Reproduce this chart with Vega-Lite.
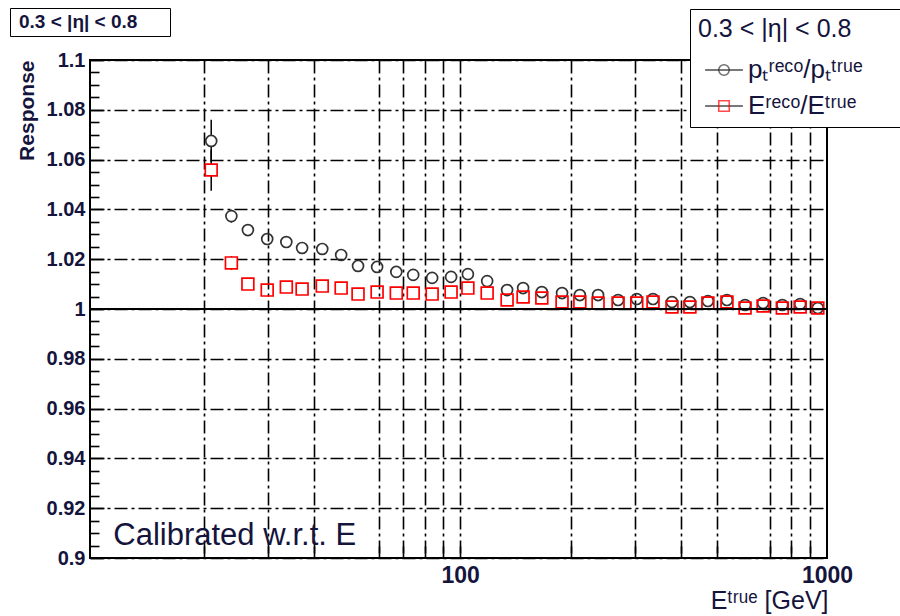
{
  "$schema": "https://vega.github.io/schema/vega-lite/v6.json",
  "width": 737,
  "height": 498,
  "autosize": {"type": "none"},
  "padding": {"left": 90, "top": 60, "right": 73, "bottom": 58},
  "background": "white",
  "config": {
    "view": {"stroke": "black", "strokeWidth": 2},
    "font": "Liberation Sans",
    "axis": {"labelFont": "Liberation Sans", "titleFont": "Liberation Sans"}
  },
  "data": {
    "values": [
      {"s": "pT", "E": 20.97, "r": 1.0675, "lo": 1.059, "hi": 1.076},
      {"s": "pT", "E": 23.8, "r": 1.0373, "lo": 1.0347, "hi": 1.0399},
      {"s": "pT", "E": 26.4, "r": 1.0317},
      {"s": "pT", "E": 29.8, "r": 1.0281},
      {"s": "pT", "E": 33.6, "r": 1.0269},
      {"s": "pT", "E": 37.1, "r": 1.0245},
      {"s": "pT", "E": 42.1, "r": 1.0241},
      {"s": "pT", "E": 47.4, "r": 1.0217},
      {"s": "pT", "E": 52.7, "r": 1.0173},
      {"s": "pT", "E": 59.4, "r": 1.0169},
      {"s": "pT", "E": 67.0, "r": 1.0149},
      {"s": "pT", "E": 74.5, "r": 1.0137},
      {"s": "pT", "E": 83.9, "r": 1.0125},
      {"s": "pT", "E": 94.5, "r": 1.0129},
      {"s": "pT", "E": 105, "r": 1.014},
      {"s": "pT", "E": 118.5, "r": 1.0112},
      {"s": "pT", "E": 134.3, "r": 1.0076},
      {"s": "pT", "E": 148.5, "r": 1.0084},
      {"s": "pT", "E": 167, "r": 1.0068},
      {"s": "pT", "E": 189.6, "r": 1.0064},
      {"s": "pT", "E": 212, "r": 1.0056},
      {"s": "pT", "E": 237.7, "r": 1.0056},
      {"s": "pT", "E": 269.5, "r": 1.0036},
      {"s": "pT", "E": 303, "r": 1.004},
      {"s": "pT", "E": 335.6, "r": 1.004},
      {"s": "pT", "E": 378, "r": 1.0028},
      {"s": "pT", "E": 423, "r": 1.0028},
      {"s": "pT", "E": 473.5, "r": 1.0032},
      {"s": "pT", "E": 533.7, "r": 1.0036},
      {"s": "pT", "E": 598, "r": 1.0016},
      {"s": "pT", "E": 669.6, "r": 1.0024},
      {"s": "pT", "E": 755.5, "r": 1.0016},
      {"s": "pT", "E": 845, "r": 1.002},
      {"s": "pT", "E": 944, "r": 1.0004},
      {"s": "E", "E": 20.97, "r": 1.0558, "lo": 1.0475, "hi": 1.064},
      {"s": "E", "E": 23.8, "r": 1.0185, "lo": 1.0158, "hi": 1.0212},
      {"s": "E", "E": 26.4, "r": 1.01},
      {"s": "E", "E": 29.8, "r": 1.0076},
      {"s": "E", "E": 33.6, "r": 1.0088},
      {"s": "E", "E": 37.1, "r": 1.008},
      {"s": "E", "E": 42.1, "r": 1.0092},
      {"s": "E", "E": 47.4, "r": 1.0084},
      {"s": "E", "E": 52.7, "r": 1.006},
      {"s": "E", "E": 59.4, "r": 1.0068},
      {"s": "E", "E": 67.0, "r": 1.0064},
      {"s": "E", "E": 74.5, "r": 1.0064},
      {"s": "E", "E": 83.9, "r": 1.006},
      {"s": "E", "E": 94.5, "r": 1.0068},
      {"s": "E", "E": 105, "r": 1.0084},
      {"s": "E", "E": 118.5, "r": 1.0064},
      {"s": "E", "E": 134.3, "r": 1.0036},
      {"s": "E", "E": 148.5, "r": 1.0048},
      {"s": "E", "E": 167, "r": 1.0044},
      {"s": "E", "E": 189.6, "r": 1.0028},
      {"s": "E", "E": 212, "r": 1.0028},
      {"s": "E", "E": 237.7, "r": 1.0024},
      {"s": "E", "E": 269.5, "r": 1.0024},
      {"s": "E", "E": 303, "r": 1.0024},
      {"s": "E", "E": 335.6, "r": 1.0028},
      {"s": "E", "E": 378, "r": 1.0008},
      {"s": "E", "E": 423, "r": 1.0008},
      {"s": "E", "E": 473.5, "r": 1.0024},
      {"s": "E", "E": 533.7, "r": 1.0028},
      {"s": "E", "E": 598, "r": 1.0004},
      {"s": "E", "E": 669.6, "r": 1.0012},
      {"s": "E", "E": 755.5, "r": 1.0004},
      {"s": "E", "E": 845, "r": 1.0008},
      {"s": "E", "E": 944, "r": 1.0004}
    ]
  },
  "layer": [
    {
      "transform": [{"filter": "isValid(datum.lo)"}],
      "mark": {"type": "rule", "color": "black", "strokeWidth": 1.5},
      "encoding": {
        "x": {
          "field": "E", "type": "quantitative",
          "scale": {"type": "log", "domain": [9.8, 1000], "nice": false},
          "axis": {
            "orient": "bottom",
            "values": [20, 30, 40, 60, 70, 80, 90, 100, 200, 300, 400, 500, 700, 800, 900],
            "labels": false, "domain": false, "title": null,
            "grid": true, "gridColor": "black", "gridWidth": 1.6, "gridDash": [13, 4, 3, 4], "gridOpacity": 1,
            "ticks": true, "tickSize": -12, "tickColor": "black", "tickWidth": 1.6
          }
        },
        "y": {
          "field": "lo", "type": "quantitative",
          "scale": {"domain": [0.9, 1.1], "nice": false, "zero": false},
          "axis": {
            "orient": "left",
            "values": [0.9, 0.92, 0.94, 0.96, 0.98, 1.0, 1.02, 1.04, 1.06, 1.08, 1.1],
            "labels": false, "domain": false, "title": null,
            "grid": true, "gridColor": "black", "gridWidth": 1.6, "gridDash": [13, 4, 3, 4], "gridOpacity": 1,
            "ticks": true, "tickSize": -14, "tickColor": "black", "tickWidth": 1.6
          }
        },
        "y2": {"field": "hi"}
      }
    },
    {
      "transform": [{"filter": "datum.s == 'pT'"}],
      "mark": {"type": "point", "shape": "circle", "size": 120, "stroke": "#333333", "strokeWidth": 1.7, "opacity": 1},
      "encoding": {
        "x": {
          "field": "E", "type": "quantitative",
          "axis": {
            "orient": "bottom", "values": [100, 1000], "format": "d",
            "ticks": false, "domain": false, "grid": false,
            "labelFont": "Liberation Sans", "labelFontSize": 23, "labelFontWeight": "bold", "labelColor": "#14143c",
            "labelPadding": 6, "labelFlush": false, "labelOverlap": false,
            "title": "Eᵗʳᵘᵉ [GeV]", "titleFontSize": 25, "titleFontWeight": "normal", "titleColor": "#14143c",
            "titleX": 738, "titleY": 50, "titleAlign": "right", "titleBaseline": "alphabetic"
          }
        },
        "y": {
          "field": "r", "type": "quantitative",
          "axis": {
            "orient": "left",
            "values": [0.9, 0.92, 0.94, 0.96, 0.98, 1.0, 1.02, 1.04, 1.06, 1.08, 1.1],
            "labelExpr": "format(datum.value, '~g')",
            "ticks": false, "domain": false, "grid": false,
            "labelFont": "Liberation Sans", "labelFontSize": 20, "labelFontWeight": "bold", "labelColor": "#14143c",
            "labelPadding": 5, "labelFlush": false, "labelOverlap": false,
            "title": "Response", "titleFontSize": 21, "titleFontWeight": "bold", "titleColor": "#14143c",
            "titleX": -53, "titleY": 0, "titleAlign": "right", "titleBaseline": "bottom", "titleAngle": 270
          }
        },
        "fill": {"condition": {"test": "isValid(datum.lo)", "value": "white"}, "value": "transparent"}
      }
    },
    {
      "transform": [{"filter": "datum.s == 'E'"}],
      "mark": {"type": "point", "shape": "square", "size": 140, "stroke": "#ff0000", "strokeWidth": 1.7, "opacity": 1},
      "encoding": {
        "x": {"field": "E", "type": "quantitative", "axis": null},
        "y": {
          "field": "r", "type": "quantitative",
          "axis": {
            "orient": "left",
            "values": [0.905, 0.91, 0.915, 0.925, 0.93, 0.935, 0.945, 0.95, 0.955, 0.965, 0.97, 0.975, 0.985, 0.99, 0.995, 1.005, 1.01, 1.015, 1.025, 1.03, 1.035, 1.045, 1.05, 1.055, 1.065, 1.07, 1.075, 1.085, 1.09, 1.095],
            "labels": false, "domain": false, "grid": false, "title": null,
            "ticks": true, "tickSize": -9, "tickColor": "black", "tickWidth": 1.6
          }
        },
        "fill": {"condition": {"test": "isValid(datum.lo)", "value": "white"}, "value": "transparent"}
      }
    },
    {
      "data": {"values": [{}]},
      "mark": {"type": "rule", "color": "black", "strokeWidth": 2},
      "encoding": {"y": {"datum": 1, "type": "quantitative", "axis": null}}
    },
    {
      "data": {"values": [{}]},
      "mark": {"type": "text", "text": "Calibrated w.r.t. E", "font": "Liberation Sans", "fontSize": 31, "align": "left", "baseline": "alphabetic", "color": "#14143c"},
      "encoding": {
        "x": {"datum": 11.34, "type": "quantitative", "axis": null},
        "y": {"datum": 0.9052, "type": "quantitative", "axis": null}
      }
    },
    {
      "data": {"values": [{"a": "x"}]},
      "transform": [{"filter": "false"}],
      "mark": {"type": "point", "size": 110, "strokeWidth": 1.6, "filled": false},
      "encoding": {
        "shape": {
          "field": "a", "type": "nominal",
          "scale": {"domain": ["pₜʳᵉᶜᵒ/pₜᵗʳᵘᵉ", "Eʳᵉᶜᵒ/Eᵗʳᵘᵉ"], "range": ["M-3.6,0H3.6", "M-3.6,0H3.6"]},
          "legend": {
            "orient": "none", "legendX": 600, "legendY": -51,
            "title": "0.3 < |η| < 0.8\u2800\u00a0\u2800",
            "titleFont": "Liberation Sans", "titleFontSize": 25, "titleFontWeight": "normal", "titleColor": "#14143c", "titlePadding": 15, "titleLimit": 600,
            "labelFont": "Liberation Sans", "labelFontSize": 26, "labelColor": "#14143c", "labelLimit": 400,
            "labelOffset": 11, "symbolOffset": 13, "symbolSize": 110, "symbolStrokeWidth": 1.6, "symbolFillColor": "transparent",
            "rowPadding": 10, "padding": 8, "strokeColor": "black", "fillColor": "white", "cornerRadius": 0, "zindex": 1
          }
        },
        "stroke": {
          "field": "a", "type": "nominal",
          "scale": {"domain": ["pₜʳᵉᶜᵒ/pₜᵗʳᵘᵉ", "Eʳᵉᶜᵒ/Eᵗʳᵘᵉ"], "range": ["black", "black"]},
          "legend": {
            "orient": "none", "legendX": 600, "legendY": -51,
            "title": "0.3 < |η| < 0.8\u2800\u00a0\u2800",
            "titleFont": "Liberation Sans", "titleFontSize": 25, "titleFontWeight": "normal", "titleColor": "#14143c", "titlePadding": 15, "titleLimit": 600,
            "labelFont": "Liberation Sans", "labelFontSize": 26, "labelColor": "#14143c", "labelLimit": 400,
            "labelOffset": 11, "symbolOffset": 13, "symbolSize": 110, "symbolStrokeWidth": 1.6, "symbolFillColor": "transparent",
            "rowPadding": 10, "padding": 8, "strokeColor": "black", "fillColor": "white", "cornerRadius": 0, "zindex": 1
          }
        }
      }
    },
    {
      "data": {"values": [{"b": "x"}]},
      "transform": [{"filter": "false"}],
      "mark": {"type": "point", "size": 110, "strokeWidth": 1.6, "filled": false},
      "encoding": {
        "shape": {
          "field": "b", "type": "nominal",
          "scale": {"domain": ["pₜʳᵉᶜᵒ/pₜᵗʳᵘᵉ", "Eʳᵉᶜᵒ/Eᵗʳᵘᵉ"], "range": ["circle", "square"]},
          "legend": {
            "orient": "none", "legendX": 600, "legendY": -51,
            "title": "0.3 < |η| < 0.8\u2800\u00a0\u2800",
            "titleFont": "Liberation Sans", "titleFontSize": 25, "titleFontWeight": "normal", "titleColor": "transparent", "titlePadding": 15, "titleLimit": 600,
            "labelFont": "Liberation Sans", "labelFontSize": 26, "labelColor": "transparent", "labelLimit": 400,
            "labelOffset": 11, "symbolOffset": 13, "symbolSize": 110, "symbolStrokeWidth": 1.6, "symbolFillColor": "transparent",
            "rowPadding": 10, "padding": 8, "strokeColor": "transparent", "fillColor": "transparent", "cornerRadius": 0, "zindex": 2
          }
        },
        "stroke": {
          "field": "b", "type": "nominal",
          "scale": {"domain": ["pₜʳᵉᶜᵒ/pₜᵗʳᵘᵉ", "Eʳᵉᶜᵒ/Eᵗʳᵘᵉ"], "range": ["#333333", "#ff0000"]},
          "legend": {
            "orient": "none", "legendX": 600, "legendY": -51,
            "title": "0.3 < |η| < 0.8\u2800\u00a0\u2800",
            "titleFont": "Liberation Sans", "titleFontSize": 25, "titleFontWeight": "normal", "titleColor": "transparent", "titlePadding": 15, "titleLimit": 600,
            "labelFont": "Liberation Sans", "labelFontSize": 26, "labelColor": "transparent", "labelLimit": 400,
            "labelOffset": 11, "symbolOffset": 13, "symbolSize": 110, "symbolStrokeWidth": 1.6, "symbolFillColor": "transparent",
            "rowPadding": 10, "padding": 8, "strokeColor": "transparent", "fillColor": "transparent", "cornerRadius": 0, "zindex": 2
          }
        }
      }
    },
    {
      "data": {"values": [{"c": "x"}]},
      "transform": [{"filter": "false"}],
      "mark": {"type": "point", "size": 0, "strokeWidth": 0, "filled": false},
      "encoding": {
        "shape": {
          "field": "c", "type": "nominal",
          "scale": {"domain": ["0.3 < |η| < 0.8\u2800\u2800"], "range": ["circle"]},
          "legend": {
            "orient": "none", "legendX": -80, "legendY": -52, "title": null,
            "labelFont": "Liberation Sans", "labelFontSize": 19, "labelFontWeight": "bold", "labelColor": "#14143c", "labelLimit": 400,
            "symbolSize": 0, "symbolStrokeWidth": 0, "symbolOffset": 0, "labelOffset": -14, "symbolOpacity": 0,
            "padding": 4, "strokeColor": "black", "fillColor": "white", "cornerRadius": 0, "zindex": 1
          }
        }
      }
    }
  ],
  "resolve": {
    "axis": {"x": "independent", "y": "independent"},
    "scale": {"shape": "independent", "stroke": "independent"}
  }
}
